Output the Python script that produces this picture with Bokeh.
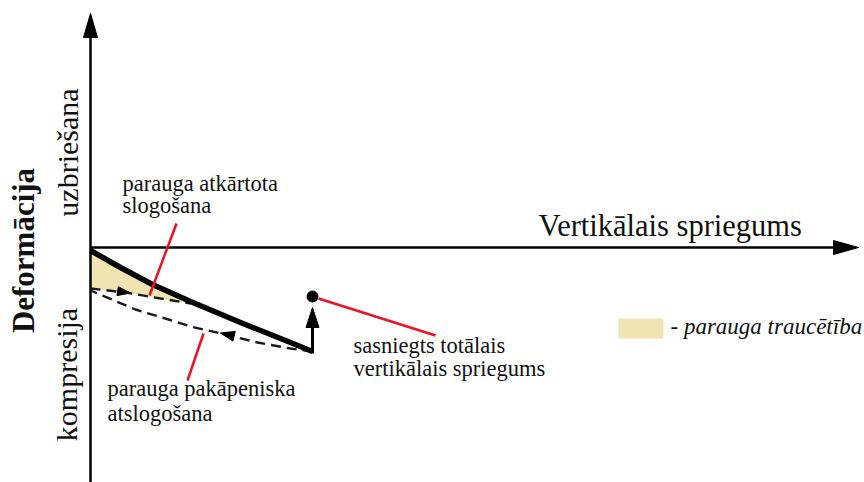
from math import pi, hypot
from bokeh.plotting import figure
from bokeh.models import Range1d, Label
from bokeh.embed import file_html
from bokeh.resources import INLINE

# ---- data (stress along x, deformation along y; origin at axis crossing) ----
loading_stress = [0, 30, 62, 100, 150, 200, 222]
loading_def = [-3, -20, -37, -54, -75, -95, -104]

reload_stress = [0, 35, 70, 100]
reload_def = [-41, -45, -51, -56]

unload_stress = [222, 200, 167, 135, 100, 78, 45, 0]
unload_def = [-104, -101, -95, -87, -79, -72, -62, -43]

peak_stress = 222
peak_def = -49

axis_x_end = 768
axis_y_end = 234
axis_y_start = -240

disturbed_until = 100

# annotation leader lines (start, end)
leader_x = [[86, 59], [113, 97], [228, 345]]
leader_y = [[24, -48], [-86, -133], [-51, -88]]

FONT = "Liberation Serif"

p = figure(width=864, height=482, x_range=Range1d(-90, 774), y_range=Range1d(-235, 247),
           output_backend="svg", toolbar_location=None, min_border=0,
           x_axis_location=None, y_axis_location=None)
p.grid.visible = False
p.outline_line_color = None
p.background_fill_color = "white"
p.border_fill_color = "white"


def tri(tx, ty, dx, dy, length, hw):
    n = hypot(dx, dy)
    ux, uy = dx / n, dy / n
    bx, by = tx - ux * length, ty - uy * length
    px, py = -uy, ux
    return [tx, bx + px * hw, bx - px * hw], [ty, by + py * hw, by - py * hw]


# disturbance fill
fx = [s for s in loading_stress if s <= disturbed_until] + list(reversed(reload_stress))
fy = [d for s, d in zip(loading_stress, loading_def) if s <= disturbed_until] + list(reversed(reload_def))
p.patch(fx, fy, fill_color="#F0E4B2", line_color=None)

# axes
p.line([0, axis_x_end - 10], [0, 0], line_color="black", line_width=2.5)
p.line([0, 0], [axis_y_start, axis_y_end - 10], line_color="black", line_width=2.5)
hx, hy = tri(axis_x_end, 0, 1, 0, 25, 7)
p.patch(hx, hy, fill_color="black", line_color="black")
vx, vy = tri(0, axis_y_end, 0, 1, 24, 7)
p.patch(vx, vy, fill_color="black", line_color="black")

# dashed reload / unload curves
p.line(reload_stress, reload_def, line_color="#1a1a1a", line_width=2.4, line_dash="10 6")
p.line(unload_stress, unload_def, line_color="#1a1a1a", line_width=2.4, line_dash="10 6")

# direction arrows on dashed curves
ax1, ay1 = tri(40, -45.5, reload_stress[2] - reload_stress[0], reload_def[2] - reload_def[0], 13, 4.5)
p.patch(ax1, ay1, fill_color="black", line_color="black")
ax2, ay2 = tri(130, -85.5, unload_stress[4] - unload_stress[2], unload_def[4] - unload_def[2], 14, 5)
p.patch(ax2, ay2, fill_color="black", line_color="black")

# loading curve
p.line(loading_stress, loading_def, line_color="black", line_width=5.5, line_join="round")

# step to total vertical stress
p.line([peak_stress, peak_stress], [loading_def[-1] - 2, peak_def - 18], line_color="black", line_width=3)
sx, sy = tri(peak_stress, peak_def - 11, 0, 1, 20, 6.5)
p.patch(sx, sy, fill_color="black", line_color="black")
p.scatter([peak_stress], [peak_def], size=11, fill_color="black", line_color="black")

# red leaders
p.multi_line(leader_x, leader_y, line_color="#EE1122", line_width=2.5)


# texts
def lab(x, y, t, size="22.5px", style="normal", angle=0, align="left"):
    p.add_layout(Label(x=x, y=y, text=t, text_font=FONT, text_font_size=size,
                       text_font_style=style, angle=angle, text_align=align,
                       text_baseline="alphabetic", text_color="#111111"))


lab(448, 22, "Vertikālais spriegums", size="30.5px")
lab(32, 64, "parauga atkārtota")
lab(32, 42, "slogošana")
lab(17, -141, "parauga pakāpeniska")
lab(17, -166, "atslogošana")
lab(263, -98, "sasniegts totālais")
lab(263, -121, "vertikālais spriegums")
lab(-67, -3, "Deformācija", size="31px", style="bold", angle=pi / 2, align="center")
lab(-23, 95, "uzbriešana", size="30px", angle=pi / 2, align="center")
lab(-24, -127, "kompresija", size="30px", angle=pi / 2, align="center")

# legend
p.quad(left=[528], right=[573], top=[-71], bottom=[-91], fill_color="#F0E4B2", line_color=None)
lab(580, -79, "- parauga traucētība", size="23px", style="italic")

open("out.html", "w").write(file_html(p, INLINE))
